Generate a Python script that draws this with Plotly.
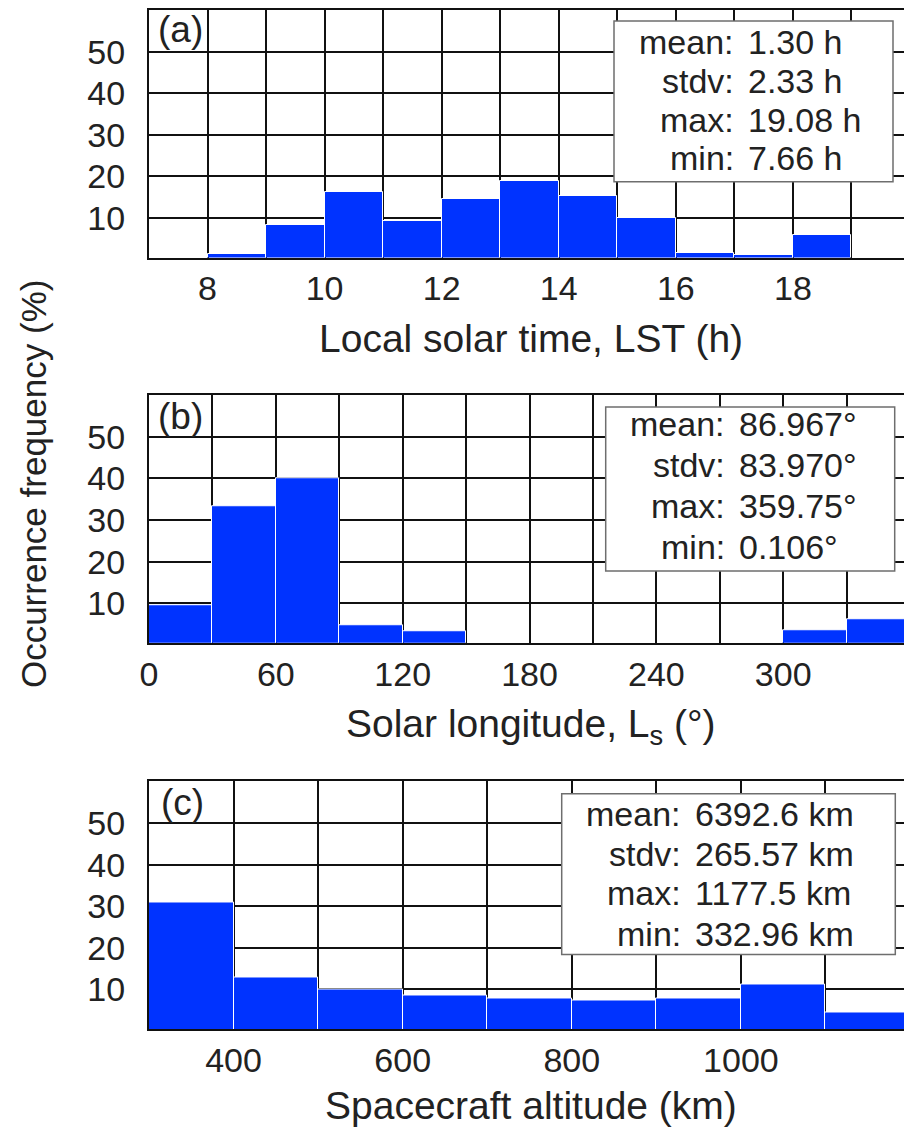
"""
Occurrence-frequency histograms: local solar time, solar longitude, altitude
"""

import plotly.graph_objects as go
from plotly.subplots import make_subplots

# ---- data ----
lst_left = [8, 9, 10, 11, 12, 13, 14, 15, 16, 17, 18]
lst_freq = [1.3, 8.4, 16.2, 9.2, 14.6, 18.8, 15.4, 10.0, 1.7, 1.0, 5.8]
lst_ticks = [8, 10, 12, 14, 16, 18]

ls_left = [0, 30, 60, 90, 120, 150, 180, 210, 240, 270, 300, 330]
ls_freq = [9.4, 33.4, 40.0, 4.6, 3.2, 0, 0, 0, 0, 0, 3.6, 6.1]
ls_ticks = [0, 60, 120, 180, 240, 300]

alt_left = [300, 400, 500, 600, 700, 800, 900, 1000, 1100]
alt_freq = [30.8, 12.8, 10.0, 8.6, 7.9, 7.3, 7.9, 11.2, 4.5]
alt_ticks = [400, 600, 800, 1000]

freq_ticks = [10, 20, 30, 40, 50]

stat_names = ["mean:", "stdv:", "max:", "min:"]
lst_stats = ["1.30 h", "2.33 h", "19.08 h", "7.66 h"]
ls_stats = ["86.967°", "83.970°", "359.75°", "0.106°"]
alt_stats = ["6392.6 km", "265.57 km", "1177.5 km", "332.96 km"]

panels = [
    dict(left=lst_left, freq=lst_freq, ticks=lst_ticks, width=1, rng=[7, 20],
         tag="(a)", title="Local solar time, LST (h)", stats=lst_stats),
    dict(left=ls_left, freq=ls_freq, ticks=ls_ticks, width=30, rng=[0, 360],
         tag="(b)", title="Solar longitude, L<sub>s</sub> (°)", stats=ls_stats),
    dict(left=alt_left, freq=alt_freq, ticks=alt_ticks, width=100, rng=[300, 1200],
         tag="(c)", title="Spacecraft altitude (km)", stats=alt_stats),
]

# ---- pixel layout helpers ----
# the page body has an 8 px margin, so the figure is shifted by (8, 8)
OFF = 8
W, H = 912 - OFF, 1132 - OFF
ML, MR, MT = 149 - OFF, 2, 8 - OFF
MB = OFF + H - 1029
PW, PH = W - ML - MR, H - MT - MB


def px_x(p):
    return (p - OFF - ML) / PW


def px_y(p):
    return (H - MB - (p - OFF)) / PH


# reference-pixel extents
panel_px = [(8, 256), (394, 642), (781, 1029)]
box_px = [(614, 893, 19, 180), (605.7, 894.7, 405.7, 570), (561.7, 895.3, 793.3, 954.3)]
colon_px = [(736, 746), (727, 737), (683, 693)]
line_px = [[40, 79, 118, 156], [423, 464, 505, 546], [814, 854, 893, 934]]
tag_px = [(156, 28), (156, 415), (159, 802)]
title_px = [337, 726, 1106]

FONT = "Liberation Sans, Arial, sans-serif"
TXT = "#222222"
BLUE = "#0033ff"
GRID = "#111111"

fig = make_subplots(rows=3, cols=1)

for i, p in enumerate(panels):
    r = i + 1
    fig.add_trace(go.Bar(
        x=p["left"], y=p["freq"], width=p["width"], offset=0,
        marker=dict(color=BLUE, line=dict(color="white", width=1)),
        showlegend=False,
    ), row=r, col=1)

    fig.update_xaxes(
        range=p["rng"], tickmode="array", tickvals=p["ticks"],
        showgrid=True, gridcolor=GRID, gridwidth=2,
        minor=dict(tick0=p["rng"][0], dtick=p["width"], showgrid=True,
                   gridcolor=GRID, gridwidth=2, ticks=""),
        showline=True, mirror=True, linecolor=GRID, linewidth=2,
        ticks="", ticklabelstandoff=0, zeroline=False,
        tickfont=dict(family=FONT, size=34, color=TXT),
        row=r, col=1,
    )
    fig.update_yaxes(
        range=[0.5, 60], tickmode="array", tickvals=freq_ticks,
        showgrid=True, gridcolor=GRID, gridwidth=2,
        showline=True, mirror=True, linecolor=GRID, linewidth=2,
        ticks="", ticklabelstandoff=15, zeroline=False,
        tickfont=dict(family=FONT, size=34, color=TXT),
        row=r, col=1,
    )

    top, bot = panel_px[i]
    axis_suffix = "" if r == 1 else str(r)
    fig.layout["yaxis" + axis_suffix].domain = [px_y(bot), px_y(top)]

    # stats box
    x0, x1, y0, y1 = box_px[i]
    fig.add_shape(type="rect", xref="paper", yref="paper",
                  x0=px_x(x0), x1=px_x(x1), y0=px_y(y1), y1=px_y(y0),
                  line=dict(color="#6e6e6e", width=1.5), fillcolor="white",
                  layer="above")
    cx, vx = colon_px[i]
    for name, val, ly in zip(stat_names, p["stats"], line_px[i]):
        fig.add_annotation(x=px_x(cx), y=px_y(ly), xref="paper", yref="paper",
                           text=name, showarrow=False, xanchor="right",
                           yanchor="middle",
                           font=dict(family=FONT, size=34, color=TXT))
        fig.add_annotation(x=px_x(vx), y=px_y(ly), xref="paper", yref="paper",
                           text=val, showarrow=False, xanchor="left",
                           yanchor="middle",
                           font=dict(family=FONT, size=34, color=TXT))

    # panel tag
    tx, ty = tag_px[i]
    fig.add_annotation(x=px_x(tx), y=px_y(ty), xref="paper", yref="paper",
                       text=p["tag"], showarrow=False, xanchor="left",
                       yanchor="middle",
                       font=dict(family=FONT, size=37, color=TXT))

    # x-axis title
    fig.add_annotation(x=px_x(531), y=px_y(title_px[i]), xref="paper", yref="paper",
                       text=p["title"], showarrow=False, xanchor="center",
                       yanchor="middle",
                       font=dict(family=FONT, size=39, color=TXT))

# shared y title
fig.add_annotation(x=px_x(33), y=px_y(483), xref="paper", yref="paper",
                   text="Occurrence frequency (%)", showarrow=False,
                   textangle=-90, xanchor="center", yanchor="middle",
                   font=dict(family=FONT, size=35, color=TXT))

fig.update_layout(
    width=W, height=H,
    margin=dict(l=ML, r=MR, t=MT, b=MB),
    plot_bgcolor="white", paper_bgcolor="white",
    bargap=0,
)

fig.write_html("out.html")
